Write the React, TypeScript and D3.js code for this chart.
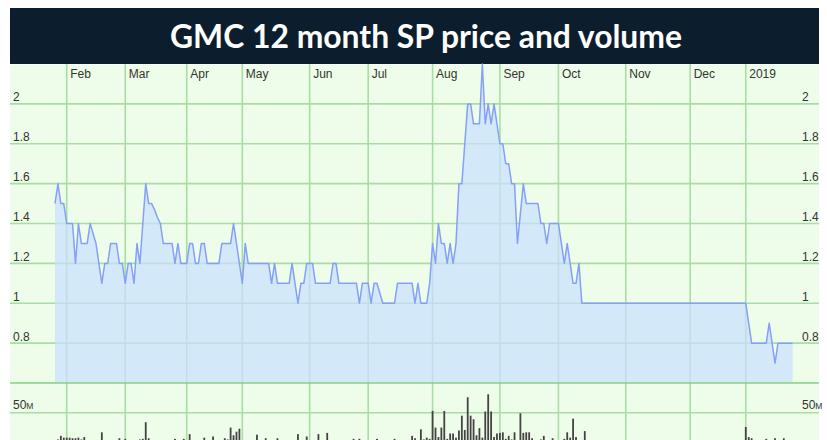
import * as d3 from 'd3';

// trading-day index of the first session of each month (index 0 = 25 Jan 2018)
const monthLabels = ['Feb', 'Mar', 'Apr', 'May', 'Jun', 'Jul', 'Aug', 'Sep', 'Oct', 'Nov', 'Dec', '2019'];
const monthStarts = [4, 24, 45, 64, 87, 107, 129, 152, 172, 195, 217, 236];

const priceTicks = [0.8, 1, 1.2, 1.4, 1.6, 1.8, 2];
const volumeTicks = [50];

// closing price per trading day, grouped by month
const priceJan18 = [1.5, 1.6, 1.5, 1.5];
const priceFeb = [1.4, 1.4, 1.4, 1.2, 1.4, 1.3, 1.3, 1.3, 1.4, 1.35, 1.3, 1.2, 1.1, 1.2, 1.2, 1.3, 1.3, 1.3, 1.2, 1.2];
const priceMar = [1.1, 1.2, 1.2, 1.1, 1.3, 1.2, 1.4, 1.6, 1.5, 1.5, 1.47, 1.43, 1.4, 1.3, 1.3, 1.3, 1.3, 1.2, 1.3, 1.2, 1.2];
const priceApr = [1.2, 1.3, 1.3, 1.2, 1.2, 1.3, 1.3, 1.2, 1.2, 1.2, 1.2, 1.2, 1.3, 1.3, 1.3, 1.3, 1.4, 1.3, 1.2];
const priceMay = [1.1, 1.3, 1.2, 1.2, 1.2, 1.2, 1.2, 1.2, 1.2, 1.2, 1.1, 1.2, 1.1, 1.1, 1.1, 1.1, 1.1, 1.2, 1.1, 1.0, 1.1, 1.1, 1.2];
const priceJun = [1.2, 1.2, 1.1, 1.1, 1.1, 1.1, 1.1, 1.1, 1.2, 1.2, 1.1, 1.1, 1.1, 1.1, 1.1, 1.1, 1.1, 1.0, 1.1, 1.1];
const priceJul = [1.1, 1.0, 1.1, 1.1, 1.05, 1.0, 1.0, 1.0, 1.0, 1.0, 1.1, 1.1, 1.1, 1.1, 1.1, 1.1, 1.0, 1.1, 1.0, 1.0, 1.0, 1.1];
const priceAug = [1.3, 1.2, 1.4, 1.3, 1.3, 1.2, 1.3, 1.2, 1.3, 1.6, 1.6, 1.8, 2.0, 2.0, 1.9, 1.9, 1.9, 2.2, 1.9, 2.0, 1.9, 2.0, 1.9];
const priceSep = [1.8, 1.8, 1.7, 1.7, 1.6, 1.6, 1.3, 1.45, 1.6, 1.5, 1.5, 1.5, 1.5, 1.5, 1.4, 1.4, 1.3, 1.4, 1.4, 1.4];
const priceOct = [1.4, 1.3, 1.2, 1.3, 1.2, 1.1, 1.1, 1.2, 1.0, 1.0, 1.0, 1.0, 1.0, 1.0, 1.0, 1.0, 1.0, 1.0, 1.0, 1.0, 1.0, 1.0, 1.0];
const priceNov = [1.0, 1.0, 1.0, 1.0, 1.0, 1.0, 1.0, 1.0, 1.0, 1.0, 1.0, 1.0, 1.0, 1.0, 1.0, 1.0, 1.0, 1.0, 1.0, 1.0, 1.0, 1.0];
const priceDec = [1.0, 1.0, 1.0, 1.0, 1.0, 1.0, 1.0, 1.0, 1.0, 1.0, 1.0, 1.0, 1.0, 1.0, 1.0, 1.0, 1.0, 1.0, 1.0];
const priceJan19 = [1.0, 0.9, 0.8, 0.8, 0.8, 0.8, 0.8, 0.8, 0.9, 0.8, 0.7, 0.8, 0.8, 0.8, 0.8, 0.8, 0.8];

// volume per trading day, millions of shares
const volJan18 = [4, 5, 11, 8];
const volFeb = [8, 8, 7, 7, 8, 5, 9, 3, 4, 3, 2, 4, 17, 3, 2, 3, 4, 3, 7, 3];
const volMar = [6, 3, 2, 4, 3, 5, 6, 34, 7, 4, 3, 3, 2, 3, 4, 2, 3, 6, 3, 4, 6];
const volApr = [3, 14, 3, 2, 4, 3, 8, 3, 2, 10, 3, 2, 4, 7, 5, 25, 12, 18, 23];
const volMay = [4, 3, 2, 3, 4, 13, 3, 2, 7, 3, 4, 3, 7, 2, 3, 4, 3, 2, 4, 14, 3, 2, 10];
const volJun = [3, 4, 2, 14, 3, 4, 16, 3, 2, 3, 4, 3, 2, 3, 4, 6, 3, 6, 2, 3];
const volJul = [4, 3, 2, 6, 3, 4, 2, 3, 4, 6, 3, 2, 4, 3, 2, 11, 7, 4, 22, 5, 8, 6];
const volAug = [53, 25, 9, 25, 53, 6, 15, 15, 8, 20, 45, 21, 76, 45, 39, 12, 24, 8, 52, 81, 52, 9, 15];
const volSep = [16, 17, 6, 11, 5, 17, 4, 49, 16, 17, 17, 7, 4, 3, 5, 11, 4, 3, 7, 3];
const volOct = [4, 3, 6, 17, 8, 40, 9, 4, 3, 19, 3, 2, 2, 1, 2, 1, 1, 2, 1, 1, 2, 1, 1];
const volNov = [1, 2, 1, 1, 2, 1, 1, 1, 2, 1, 1, 1, 2, 1, 1, 1, 2, 1, 1, 1, 2, 1];
const volDec = [1, 1, 2, 1, 1, 1, 2, 1, 1, 1, 2, 1, 1, 1, 1, 2, 1, 1, 1];
const volJan19 = [26, 9, 7, 3, 2, 4, 3, 6, 3, 2, 7, 3, 2, 7, 3, 2, 3];

const prices = [
  ...priceJan18, ...priceFeb, ...priceMar, ...priceApr, ...priceMay, ...priceJun,
  ...priceJul, ...priceAug, ...priceSep, ...priceOct, ...priceNov, ...priceDec, ...priceJan19,
];
const volumes = [
  ...volJan18, ...volFeb, ...volMar, ...volApr, ...volMay, ...volJun,
  ...volJul, ...volAug, ...volSep, ...volOct, ...volNov, ...volDec, ...volJan19,
];

const W = 827;
const H = 440;
const left = 10;
const right = 819;
const titleTop = 8;
const plotTop = 64;
const priceBottom = 383;

const gridColor = '#a9dea3';
const textColor = '#333';
const font = "'Liberation Sans', Arial, sans-serif";

export default function App() {
  const x = d3.scaleLinear().domain([0, prices.length - 1]).range([55, 792.6]);
  const yPrice = d3.scaleLinear().domain([0.6, 2.2]).range([priceBottom, plotTop]);
  const yVol = d3.scaleLinear().domain([0, 100]).range([442.4, priceBottom]);

  const area = d3
    .area<number>()
    .x((_, i) => x(i))
    .y0(yPrice(0.6))
    .y1((d) => yPrice(d));
  const line = d3
    .line<number>()
    .x((_, i) => x(i))
    .y((d) => yPrice(d));

  return (
    <svg
      width={W}
      height={H}
      style={{ position: 'absolute', left: 0, top: 0, display: 'block' }}
    >
      {/* title bar */}
      <rect x={left} y={titleTop} width={right - left} height={plotTop - titleTop} fill="#0c1e2d" />
      <text
        x={426}
        y={48}
        textAnchor="middle"
        fill="#fff"
        fontFamily="Lato, 'Open Sans', sans-serif"
        fontWeight={700}
        fontSize={32}
        textLength={512}
        lengthAdjust="spacingAndGlyphs"
      >
        GMC 12 month SP price and volume
      </text>

      {/* plot background */}
      <rect x={left} y={plotTop} width={right - left} height={H - plotTop} fill="#eefdea" />
      <line x1={left} x2={right} y1={plotTop + 0.5} y2={plotTop + 0.5} stroke="#f6fff4" />

      {/* horizontal grid, price panel */}
      {priceTicks.map((v) => (
        <line key={'hp' + v} x1={left} x2={right} y1={yPrice(v)} y2={yPrice(v)} stroke={gridColor} strokeWidth={1.6} />
      ))}
      {/* horizontal grid, volume panel */}
      {volumeTicks.map((v) => (
        <line key={'hv' + v} x1={left} x2={right} y1={yVol(v)} y2={yVol(v)} stroke={gridColor} strokeWidth={1.6} />
      ))}
      {/* vertical month grid */}
      {monthStarts.map((m) => (
        <line key={'vm' + m} x1={x(m)} x2={x(m)} y1={plotTop} y2={H} stroke={gridColor} strokeWidth={1.6} />
      ))}

      {/* price area + line */}
      <path d={area(prices) ?? ''} fill="#c9dfff" fillOpacity={0.72} />
      <path d={line(prices) ?? ''} fill="none" stroke="#86a0f6" strokeWidth={1.5} strokeLinejoin="round" />

      {/* panel separator */}
      <line x1={left} x2={right} y1={priceBottom} y2={priceBottom} stroke="#86d185" strokeWidth={1.6} />

      {/* volume bars */}
      {volumes.map((v, i) => (
        <rect key={'vb' + i} x={x(i) - 0.9} y={yVol(v)} width={1.8} height={yVol(0) - yVol(v)} fill="#444" />
      ))}

      {/* month labels */}
      {monthStarts.map((m, i) => (
        <text key={'ml' + m} x={x(m) + 3.5} y={78} fill={textColor} fontFamily={font} fontSize={12}>
          {monthLabels[i]}
        </text>
      ))}

      {/* price labels, both sides */}
      {priceTicks.map((v) => (
        <g key={'pl' + v} fill={textColor} fontFamily={font} fontSize={12}>
          <text x={13} y={yPrice(v) - 2.5}>{String(v)}</text>
          <text x={802} y={yPrice(v) - 2.5}>{String(v)}</text>
        </g>
      ))}

      {/* volume labels */}
      {volumeTicks.map((v) => (
        <g key={'vl' + v} fill={textColor} fontFamily={font} fontSize={12}>
          <text x={13} y={yVol(v) - 3.5}>
            {v}
            <tspan fontSize={8.5}>M</tspan>
          </text>
          <text x={802} y={yVol(v) - 3.5}>
            {v}
            <tspan fontSize={8.5}>M</tspan>
          </text>
        </g>
      ))}
    </svg>
  );
}
